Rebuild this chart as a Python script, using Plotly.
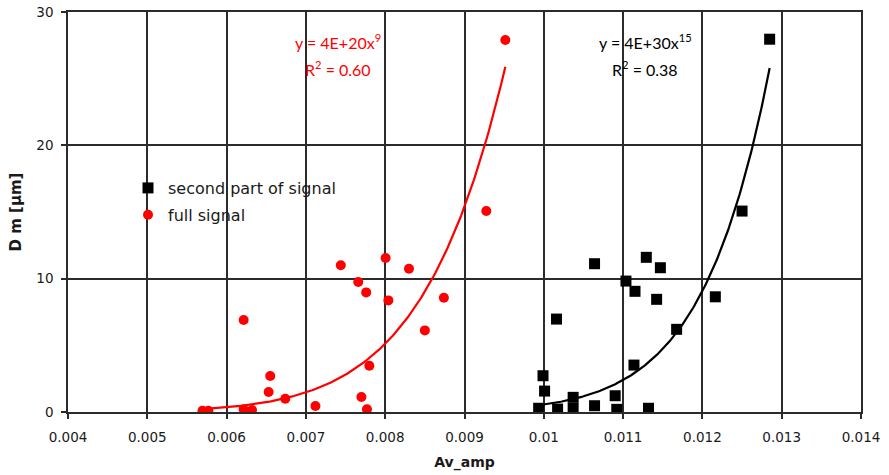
import numpy as np
import plotly.graph_objects as go

# ---- data ----
full_x = [0.005696, 0.00577, 0.006215, 0.006215, 0.00632, 0.00655, 0.00653, 0.00674,
          0.00712, 0.00744, 0.00766, 0.00776, 0.00780, 0.00770, 0.00777, 0.008005,
          0.00804, 0.00830, 0.00850, 0.00874, 0.009275, 0.009515]
full_y = [0.10, 0.10, 6.90, 0.20, 0.15, 2.70, 1.50, 1.00,
          0.45, 11.0, 9.75, 8.97, 3.47, 1.12, 0.20, 11.55,
          8.37, 10.74, 6.12, 8.57, 15.07, 27.9]

second_x = [0.009935, 0.00999, 0.01001, 0.01016, 0.010174, 0.01037, 0.01037, 0.01064,
            0.01064, 0.01090, 0.01092, 0.011036, 0.01115, 0.011137, 0.0112925, 0.01132,
            0.01147, 0.011423, 0.011675, 0.012163, 0.01250, 0.012848]
second_y = [0.28, 2.72, 1.57, 6.97, 0.22, 1.10, 0.28, 0.47,
            11.12, 1.22, 0.20, 9.82, 9.05, 3.52, 11.60, 0.28,
            10.82, 8.45, 6.20, 8.64, 15.07, 27.96]

# power trendlines y = a*x^b: (x_start, x_end, y_end, exponent)
full_trend = (0.005696, 0.009515, 25.9, 9.34)
second_trend = (0.009935, 0.012848, 25.8, 15.3)

x_ticks = [0.004, 0.005, 0.006, 0.007, 0.008, 0.009, 0.01, 0.011, 0.012, 0.013, 0.014]
x_tick_labels = ["0.004", "0.005", "0.006", "0.007", "0.008", "0.009", "0.01", "0.011",
                 "0.012", "0.013", "0.014"]
y_ticks = [0, 10, 20, 30]

full_label = "full signal"
second_label = "second part of signal"
full_eq = ["y = 4E+20x<sup>9</sup>", "R<sup>2</sup> = 0.60"]
second_eq = ["y = 4E+30x<sup>15</sup>", "R<sup>2</sup> = 0.38"]


def power_curve(trend, n=200):
    x0, x1, y1, b = trend
    a = y1 / x1 ** b
    xx = np.linspace(x0, x1, n)
    return xx, a * xx ** b


fx, fy = power_curve(full_trend)
sx, sy = power_curve(second_trend)

RED = "#ff0000"
BLK = "#000000"
TXT = "#1a1a1a"

fig = go.Figure()
fig.add_trace(go.Scatter(x=second_x, y=second_y, mode="markers", name=second_label,
                         legendgroup="a",
                         marker=dict(symbol="square", size=11, color=BLK)))
fig.add_trace(go.Scatter(x=full_x, y=full_y, mode="markers", name=full_label,
                         legendgroup="b",
                         marker=dict(symbol="circle", size=10, color=RED)))
fig.add_trace(go.Scatter(x=fx, y=fy, mode="lines", showlegend=False,
                         line=dict(color=RED, width=2.2), hoverinfo="skip"))
fig.add_trace(go.Scatter(x=sx, y=sy, mode="lines", showlegend=False,
                         line=dict(color=BLK, width=2.2), hoverinfo="skip"))

GRID = "#2b2b2b"
ann = []
for i, t in enumerate(full_eq):
    ann.append(dict(x=0.00740, y=[27.81, 25.79][i], xref="x", yref="y", text=t,
                    showarrow=False, font=dict(family="Lato", size=16, color=RED)))
for i, t in enumerate(second_eq):
    ann.append(dict(x=0.01128, y=[27.81, 25.79][i], xref="x", yref="y", text=t,
                    showarrow=False, font=dict(family="Lato", size=16, color=BLK)))

fig.update_layout(
    width=889, height=475,
    margin=dict(l=68, r=28, t=12, b=63),
    paper_bgcolor="white", plot_bgcolor="white",
    font=dict(family="DejaVu Sans", size=14, color=TXT),
    showlegend=True,
    legend=dict(x=(128 - 68) / 793, y=(412 - 171) / 400, xanchor="left", yanchor="top",
                bgcolor="rgba(0,0,0,0)", font=dict(family="DejaVu Sans", size=16, color=TXT),
                tracegroupgap=3, itemclick=False),
    xaxis=dict(range=[0.004, 0.014], tickvals=x_ticks, ticktext=x_tick_labels,
               showgrid=True, gridcolor=GRID, gridwidth=1.5,
               showline=True, linecolor=GRID, linewidth=1.5, mirror=True,
               ticks="outside", ticklen=5, tickcolor=GRID, tickwidth=1.5,
               zeroline=False, automargin=False, ticklabelstandoff=7,
               tickfont=dict(family="DejaVu Sans", size=13.5, color=TXT),
               title=dict(text="<b>Av_amp</b>", standoff=13,
                          font=dict(family="DejaVu Sans", size=14, color=TXT))),
    yaxis=dict(range=[0, 30], tickvals=y_ticks,
               showgrid=True, gridcolor=GRID, gridwidth=1.5,
               showline=True, linecolor=GRID, linewidth=1.5, mirror=True,
               ticks="outside", ticklen=5, tickcolor=GRID, tickwidth=1.5,
               zeroline=False, automargin=False, ticklabelstandoff=5,
               tickfont=dict(family="DejaVu Sans", size=13.5, color=TXT),
               title=dict(text="<b>D m [µm]</b>", standoff=11,
                          font=dict(family="DejaVu Sans", size=15, color=TXT))),
    annotations=ann,
)

fig.write_html("out.html", config={"displayModeBar": False},
               post_script="document.body.style.margin='0px';")
